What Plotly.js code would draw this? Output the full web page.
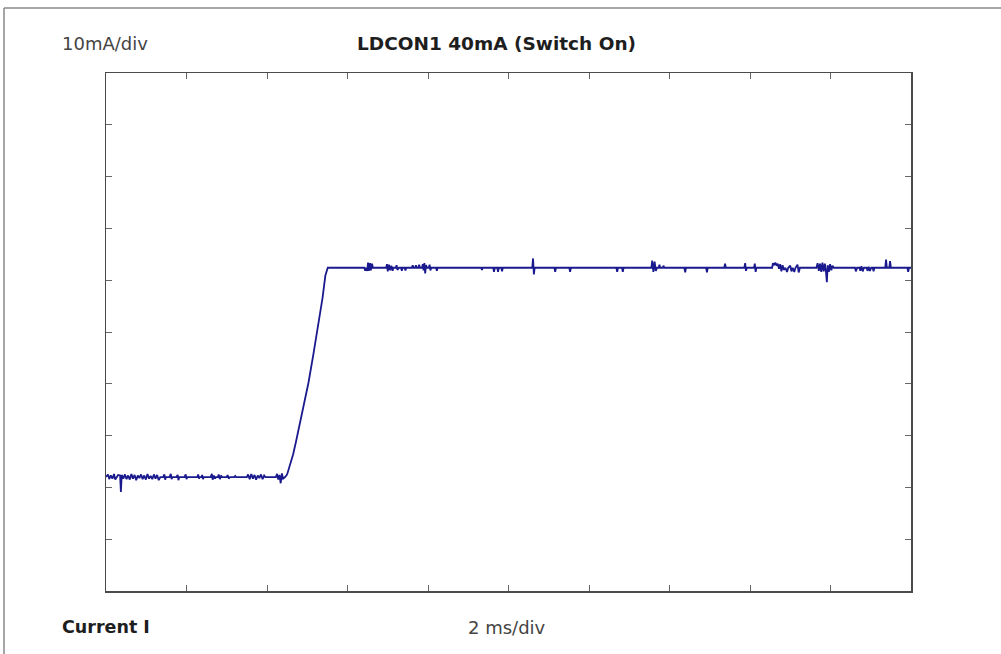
<!DOCTYPE html>
<html>
<head>
<meta charset="utf-8">
<script src="https://cdn.plot.ly/plotly-3.0.1.min.js"></script>
<style>html,body{margin:0;padding:0;background:#fff;}#chart{width:1001px;height:654px;}</style>
</head>
<body>
<div id="chart"></div>
<script>
// Time in ms (2 ms/div), current in mA (10 mA/div)
const timeMs = [
 0.00,0.05,0.08,0.12,0.16,0.20,0.23,0.27,0.30,0.35,0.37,0.39,0.43,0.47,0.51,0.55,0.59,0.63,0.67,0.71,
 0.75,0.79,0.83,0.87,0.91,0.95,0.99,1.03,1.07,1.11,1.15,1.19,1.23,1.27,1.31,1.35,1.42,1.45,1.47,1.49,
 1.58,1.61,1.63,1.65,1.75,1.78,1.80,1.82,1.95,1.98,2.00,2.02,2.27,2.29,2.31,2.33,2.37,2.39,2.41,2.43,
 2.60,2.63,2.65,2.68,2.71,2.73,2.78,2.80,2.83,2.86,2.88,3.00,3.02,3.05,3.08,3.19,3.21,3.23,3.50,3.53,
 3.57,3.61,3.65,3.69,3.73,3.77,3.81,3.85,3.89,3.93,3.96,4.22,4.25,4.28,4.31,4.34,4.37,4.40,4.45,
 4.50,4.57,4.65,4.72,4.80,4.90,5.03,5.15,5.27,5.38,5.45,5.51,
 6.42,6.44,6.46,6.49,6.51,6.53,6.56,6.58,6.61,6.63,6.96,6.98,7.00,7.03,7.06,7.09,7.12,7.14,7.20,7.22,
 7.24,7.28,7.33,7.35,7.37,7.42,7.44,7.46,7.60,7.62,7.64,7.68,7.70,7.72,7.76,7.78,7.80,7.85,7.87,7.89,
 7.91,7.93,7.95,7.98,8.02,8.04,8.06,8.08,8.20,8.22,8.24,9.32,9.34,9.36,9.62,9.64,9.66,9.72,9.74,9.76,
 9.82,9.84,9.86,10.59,10.61,10.63,10.65,11.14,11.16,11.18,11.51,11.53,11.55,12.68,12.70,12.72,12.82,12.84,12.86,13.55,
 13.57,13.60,13.63,13.66,13.69,13.73,13.75,13.77,13.83,13.85,13.87,14.37,14.39,14.41,14.91,14.93,14.95,15.36,15.38,15.40,
 15.86,15.88,15.90,15.92,16.10,16.12,16.14,16.16,16.55,16.57,16.60,16.63,16.66,16.69,16.72,16.75,16.78,16.81,16.84,16.88,
 16.92,16.95,17.00,17.03,17.06,17.10,17.13,17.18,17.21,17.24,17.65,17.68,17.71,17.74,17.77,17.80,17.83,17.86,17.89,17.91,
 17.93,17.96,17.99,18.02,18.05,18.08,18.61,18.63,18.66,18.72,18.74,18.77,18.80,18.83,18.90,18.92,18.95,18.98,19.01,19.05,
 19.07,19.09,19.36,19.38,19.40,19.46,19.48,19.50,19.91,19.93,19.95,20.00
];
const currentMa = [
 0.0,0.5,-0.4,0.3,-0.3,0.6,-0.5,0.2,0.4,0.3,-2.9,0.4,-0.3,0.5,-0.4,0.3,-0.5,0.6,-0.3,0.4,
 -0.6,0.3,-0.2,0.5,-0.4,0.3,-0.5,0.6,-0.3,0.2,-0.4,0.5,-0.3,0.4,-0.6,0.0,0.0,0.5,-0.5,0.0,
 0.0,0.6,-0.4,0.0,0.0,0.4,-0.6,0.0,0.0,0.5,-0.4,0.0,0.0,0.5,-0.3,0.0,0.0,0.4,-0.4,0.0,
 0.0,0.6,-0.5,0.3,-0.3,0.0,0.0,0.5,-0.4,0.3,0.0,0.0,0.4,-0.3,0.0,0.0,0.2,0.0,0.0,0.5,
 -0.4,0.6,-0.3,0.4,-0.5,0.3,-0.2,0.5,-0.4,0.3,0.0,0.0,0.6,-0.5,0.4,-1.2,0.7,-0.3,0.0,
 0.5,2.2,4.4,6.8,9.6,13.3,18.2,23.6,29.0,34.6,38.9,40.4,
 40.4,39.8,40.4,39.8,41.4,39.8,41.3,39.9,41.2,40.4,40.4,41.1,39.7,41.0,39.9,40.8,39.8,40.4,40.4,40.9,
 40.0,40.4,40.4,39.8,40.4,40.4,39.9,40.4,40.4,40.9,40.4,40.4,40.9,40.4,40.4,41.0,40.4,40.4,41.1,39.9,
 41.3,39.3,40.9,40.4,40.4,41.0,39.9,40.4,40.4,39.8,40.4,40.4,40.0,40.4,40.4,39.6,40.4,40.4,39.6,40.4,
 40.4,39.7,40.4,40.4,42.2,39.1,40.4,40.4,39.6,40.4,40.4,39.6,40.4,40.4,39.6,40.4,40.4,39.6,40.4,40.4,
 41.8,39.6,41.6,39.8,40.4,40.4,41.0,40.4,40.4,40.8,40.4,40.4,39.5,40.4,40.4,39.5,40.4,40.4,41.2,40.4,
 40.4,41.3,39.8,40.4,40.4,41.2,39.6,40.4,40.4,41.3,40.9,41.4,40.8,41.2,40.2,41.1,39.7,40.9,40.0,40.4,
 39.6,40.4,40.8,39.7,40.4,39.6,40.4,41.0,39.5,40.4,40.4,41.3,39.8,41.2,39.6,41.4,39.7,41.2,39.4,37.6,
 40.9,39.6,41.1,39.9,40.8,40.4,40.4,39.7,40.4,40.4,39.8,40.7,39.7,40.4,40.4,39.8,40.6,39.8,40.4,40.4,
 39.7,40.4,40.4,42.0,40.4,40.4,41.7,40.4,40.4,39.6,40.4,40.4
];
const titleText = "LDCON1 40mA (Switch On)";
const yScaleText = "10mA/div";
const xScaleText = "2 ms/div";
const channelText = "Current I";

const font = "DejaVu Sans, Liberation Sans, sans-serif";
const axisCommon = {
  showgrid:false, zeroline:false, showticklabels:false,
  showline:true, linecolor:'#4a4a4a', linewidth:1.5, mirror:'ticks',
  ticks:'inside', ticklen:6, tickwidth:1, tickcolor:'#666'
};
const layout = {
  width:1001, height:654,
  margin:{l:106, r:90, t:73, b:63},
  paper_bgcolor:'#fff', plot_bgcolor:'#fff',
  showlegend:false,
  xaxis:Object.assign({range:[0,20], tick0:0, dtick:2}, axisCommon),
  yaxis:Object.assign({range:[-22,78], tick0:-22, dtick:10}, axisCommon),
  annotations:[
    {text:titleText, xref:'paper', yref:'paper', x:0.4845, y:1.056, xanchor:'center', yanchor:'middle', showarrow:false, font:{family:font, size:18.5, color:'#1e1e1e', weight:'bold'}},
    {text:yScaleText, xref:'paper', yref:'paper', x:-0.0571, y:1.056, xanchor:'left', yanchor:'middle', showarrow:false, font:{family:font, size:18, color:'#444'}},
    {text:channelText, xref:'paper', yref:'paper', x:-0.0571, y:-0.0695, xanchor:'left', yanchor:'middle', showarrow:false, font:{family:font, size:17.5, color:'#1e1e1e', weight:'bold'}},
    {text:xScaleText, xref:'paper', yref:'paper', x:0.498, y:-0.0695, xanchor:'center', yanchor:'middle', showarrow:false, font:{family:font, size:18, color:'#444'}}
  ],
  shapes:[
    {type:'line', xref:'paper', yref:'paper', x0:-0.1267, y0:1.1255, x1:1.12, y1:1.1255, line:{color:'#888', width:1.5}},
    {type:'line', xref:'paper', yref:'paper', x0:-0.1267, y0:1.1255, x1:-0.1267, y1:-0.13, line:{color:'#888', width:1.5}}
  ]
};
Plotly.newPlot('chart', [{
  x:timeMs, y:currentMa, type:'scatter', mode:'lines',
  line:{color:'#1a1a8e', width:1.8}, hoverinfo:'skip'
}], layout, {staticPlot:true, displayModeBar:false});
</script>
</body>
</html>
